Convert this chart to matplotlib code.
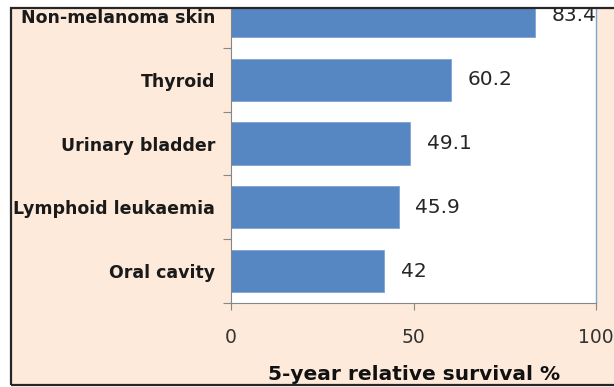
import numpy as np
import matplotlib
matplotlib.use("Agg")
import matplotlib.pyplot as plt
from matplotlib.patches import Rectangle

# cancer sites, bottom to top
sites = ["Oral cavity", "Lymphoid leukaemia", "Urinary bladder", "Thyroid", "Non-melanoma skin"]
survival = [42, 45.9, 49.1, 60.2, 83.4]
value_text = ["42", "45.9", "49.1", "60.2", "83.4"]
xticks = [0, 50, 100]

W, H = 614, 387
peach = "#FDEADA"
bar_blue = "#5787C3"

fig = plt.figure(figsize=(W / 100, H / 100), dpi=100, facecolor="white")

# chart area background with border
fig.add_artist(Rectangle((11 / W, 2 / H), 1.0, 377 / H, transform=fig.transFigure,
                         facecolor=peach, edgecolor="none", zorder=-2))

ax = fig.add_axes([231 / W, (H - 303) / H, (596 - 231) / W, (303 + 16) / H])
ax.set_facecolor("white")

y = np.arange(len(sites))
ax.barh(y, survival, height=0.66, color=bar_blue, edgecolor="#7FA3D3", linewidth=0.6)

for yi, v, t in zip(y, survival, value_text):
    ax.text(v + 4.5, yi, t, va="center", ha="left", fontsize=14.5,
            family="DejaVu Sans", color="#262626")

ax.set_xlim(0, 100)
ax.set_ylim(-0.5, len(sites) - 0.5)

ax.set_yticks(y)
ax.set_yticklabels(sites, fontsize=12.5, fontweight="bold", color="#1a1a1a")
ax.tick_params(axis="y", which="major", length=0, pad=11.5)
ax.set_yticks(np.arange(-0.5, len(sites) - 0.5, 1.0), minor=True)
ax.tick_params(axis="y", which="minor", length=6, color="#868686", width=0.8)

ax.set_xticks(xticks)
ax.set_xticklabels([str(v) for v in xticks], fontsize=13.5, color="#333333")
ax.tick_params(axis="x", length=5, color="#868686", width=0.8, pad=13)

for side in ["left", "bottom"]:
    ax.spines[side].set_color("#868686")
    ax.spines[side].set_linewidth(0.8)
ax.spines["top"].set_visible(False)
ax.spines["right"].set_color("#7FA3D3")
ax.spines["right"].set_linewidth(1.0)

fig.text(414 / W, (H - 374) / H, "5-year relative survival %", ha="center", va="center",
         fontsize=14.5, fontweight="bold", color="#111111")

# white strip above the chart and the outer frame
fig.add_artist(Rectangle((0, 379 / H), 1.0, 8 / H, transform=fig.transFigure,
                         facecolor="white", edgecolor="none", zorder=10))
fig.add_artist(Rectangle((0, 0), 11 / W, 1.0, transform=fig.transFigure,
                         facecolor="white", edgecolor="none", zorder=10))
fig.add_artist(Rectangle((0, 0), 1.0, 2 / H, transform=fig.transFigure,
                         facecolor="white", edgecolor="none", zorder=10))
fig.add_artist(Rectangle((11 / W, 2 / H), 1.2, 377 / H, transform=fig.transFigure,
                         facecolor="none", edgecolor="#262626", linewidth=1.6, zorder=11))

fig.savefig("out.png", dpi=100, facecolor=fig.get_facecolor())
